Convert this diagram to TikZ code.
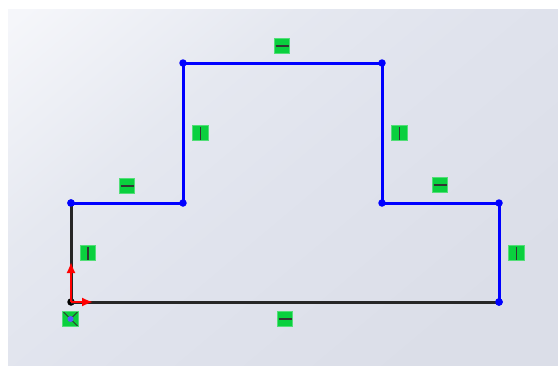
\documentclass[tikz,border=0pt]{standalone}
\usepackage{xcolor}
\usetikzlibrary{
    arrows.meta,
    positioning,
    calc
}
\definecolor{sketchblue}{RGB}{0,0,255}
\definecolor{badgegreen}{RGB}{10,208,62}
\definecolor{bgone}{RGB}{219,222,232}
\definecolor{bgtwo}{RGB}{224,227,237}
\definecolor{bgthree}{RGB}{229,232,240}
\definecolor{bgfour}{RGB}{245,246,250}
\pgfdeclareverticalshading{sketchbg}{100bp}{
    color(0bp)=(bgone);
    color(25bp)=(bgone);
    color(50bp)=(bgtwo);
    color(64bp)=(bgthree);
    color(84bp)=(bgfour);
    color(100bp)=(bgfour)
}
\tikzset{
    point/.style={circle, fill=sketchblue, inner sep=0pt, minimum size=7.5pt},
    fixedpoint/.style={circle, fill=black, inner sep=0pt, minimum size=7.5pt},
    edgeline/.style={draw=sketchblue, line width=3pt},
    fixedline/.style={draw=black!85, line width=3pt},
    axisline/.style={draw=red, line width=1.8pt, -{Latex[length=11pt, width=9pt]}},
    badge/.style={fill=badgegreen, draw=badgegreen!70!white, line width=0.7pt, inner sep=0pt, minimum size=15.5pt},
    hbadge/.style={badge, path picture={
        \draw[black!80, line width=1.6pt] ($(path picture bounding box.center)+(-6.5pt,0)$) -- ($(path picture bounding box.center)+(6.5pt,0)$);
    }},
    vbadge/.style={badge, path picture={
        \draw[black!80, line width=1.6pt] ($(path picture bounding box.center)+(0,-6.5pt)$) -- ($(path picture bounding box.center)+(0,6.5pt)$);
    }},
    xbadge/.style={badge, path picture={
        \draw[black!80, line width=1pt] ($(path picture bounding box.center)+(7pt,-7pt)$) -- ($(path picture bounding box.center)+(-7pt,7pt)$);
        \draw[black!80, line width=1pt] ($(path picture bounding box.center)+(1pt,1pt)$) -- ($(path picture bounding box.center)+(7pt,7pt)$);
        \fill[blue!65!white] (path picture bounding box.center) circle (3pt);
    }}
}

\begin{document}
\begin{tikzpicture}[x=1pt, y=-1pt]
    \useasboundingbox (0, 0) rectangle (558, 365);
    \fill[white] (0, 0) rectangle (558, 365);
    \shade[shading=sketchbg, shading angle=40] (8, 9) rectangle (558, 365);

    % corners of the profile
    \node[fixedpoint] (a) at (71, 302) {};
    \node[point] (b) at (71, 203) {};
    \node[point] (c) at (183, 63) {};
    \node[point] (d) at (183, 203) {};
    \node[point] (e) at (382, 63) {};
    \node[point] (f) at (382, 203) {};
    \node[point] (g) at (499, 203) {};
    \node[point] (h) at (499, 302) {};

    \draw[fixedline] (a.center) -- (b.center);
    \draw[fixedline] (a.center) -- (h.center);
    \draw[edgeline] (b.center) -- (d.center);
    \draw[edgeline] (d.center) -- (c.center);
    \draw[edgeline] (c.center) -- (e.center);
    \draw[edgeline] (e.center) -- (f.center);
    \draw[edgeline] (f.center) -- (g.center);
    \draw[edgeline] (g.center) -- (h.center);
    \node[point] at (b) {};
    \node[point] at (h) {};

    % origin arrows
    \coordinate (xtip) at (93, 302);
    \coordinate (ytip) at (71, 262);
    \draw[axisline] (a.center) -- (xtip);
    \draw[axisline] (a.center) -- (ytip);

    % relations
    \node[hbadge] (top) at (282, 46) {};
    \node[vbadge] (innerleft) at (200.5, 133) {};
    \node[vbadge] (innerright) at (399.5, 133) {};
    \node[hbadge] (stepleft) at (127, 186) {};
    \node[hbadge] (stepright) at (440, 185) {};
    \node[vbadge] (sideleft) at (88, 253) {};
    \node[vbadge] (sideright) at (516.5, 253) {};
    \node[hbadge] (bottom) at (285, 319) {};
    \node[xbadge] (origin) at (70.5, 319) {};
\end{tikzpicture}
\end{document}
